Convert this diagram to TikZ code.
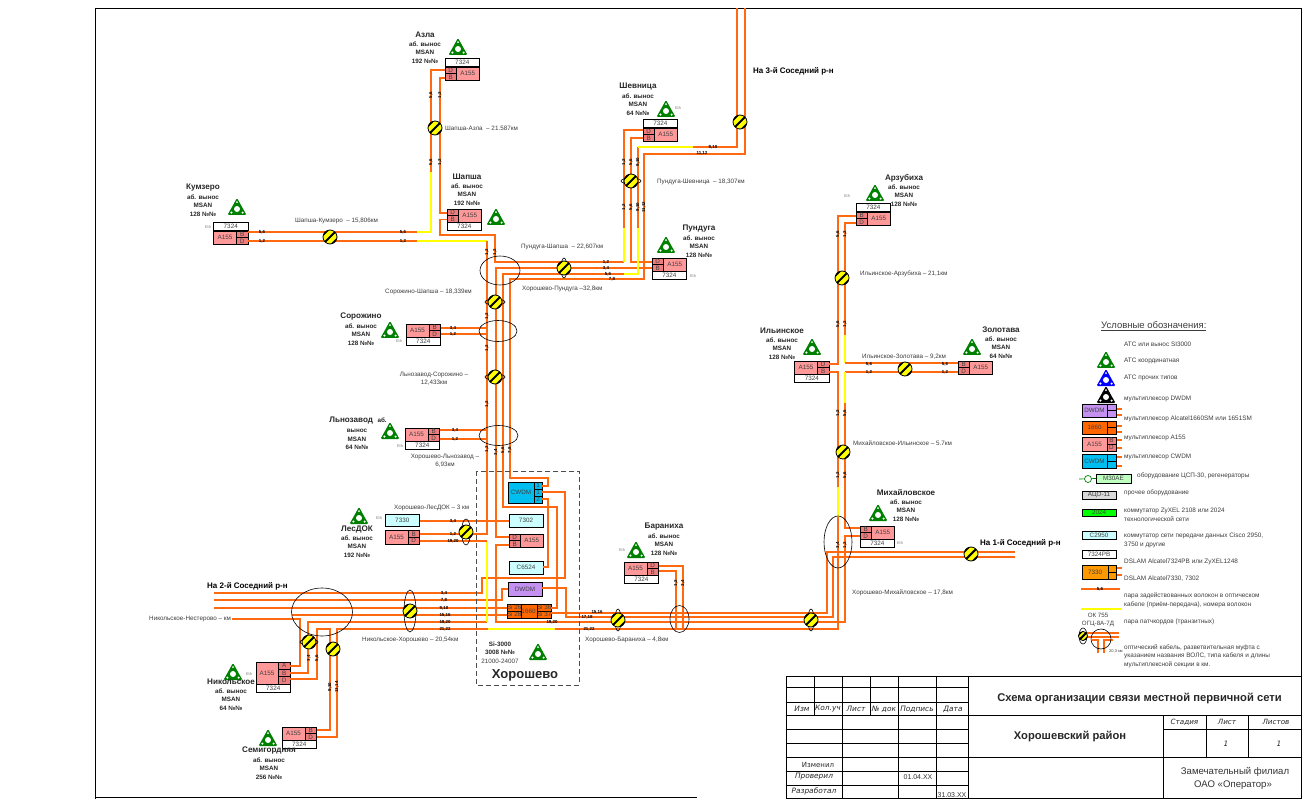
\documentclass[tikz,border=0pt]{standalone}
\usepackage{fontspec}
\setmainfont{Liberation Sans}
\newfontfamily\djfont{DejaVu Sans}
\newcommand\fsz[1]{\fontsize{#1}{#1}\selectfont}
\definecolor{fibc}{RGB}{255,105,15}
\definecolor{yelc}{RGB}{255,255,0}
\definecolor{pinkc}{RGB}{255,153,153}
\definecolor{pinkd}{RGB}{240,125,125}
\definecolor{cyanl}{RGB}{204,255,255}
\definecolor{cyand}{RGB}{0,190,240}
\definecolor{purc}{RGB}{196,145,240}
\definecolor{orac}{RGB}{255,102,0}
\definecolor{grnc}{RGB}{0,128,0}
\definecolor{gtxt}{RGB}{60,60,60}
\tikzset{
 fib/.style={draw=fibc,line width=1.7pt,line join=miter},
 yl/.style={draw=yelc,line width=1.7pt},
 thin1/.style={draw=black,line width=.6pt},
 dev/.style={draw=black,line width=.9pt,inner sep=0,outer sep=0,anchor=north west,text=black!75,font=\fsz{6.3}},
 lab/.style={inner sep=0,anchor=west,text=gtxt,font=\fsz{6.3}},
 labc/.style={lab,anchor=center},
 tag/.style={inner sep=0,text=black,font=\bfseries\fsz{4.4}},
 vt/.style={tag,rotate=90},
 eth/.style={inner sep=0,text=gray,font=\fsz{4}},
 stt/.style={inner sep=0,text=black!85,font=\bfseries\fsz{8.1}},
 sts/.style={inner sep=0,text=black!85,font=\bfseries\fsz{6.3}},
 big/.style={inner sep=0,text=black,font=\bfseries\fsz{8},anchor=west},
 tb/.style={inner sep=0,text=black!85,font=\djfont\itshape\fsz{7.4}},
 tbp/.style={inner sep=0,text=black!80,font=\fsz{7}},
 leg/.style={lab,font=\fsz{6.4}},
 atc/.pic={
  \fill[#1,rounded corners=1.2pt] (0,-9) -- (9.5,8) -- (-9.5,8) -- cycle;
  \fill[white] (0,2) circle (3pt);
  \fill[white] (-5.6,5.6) circle (1.2pt) (5.6,5.6) circle (1.2pt) (0,-4.8) circle (1pt);
 },
 spl/.pic={
  \begin{scope}
   \clip (0,0) circle (7pt);
   \fill[yelc] (-8,-8) rectangle (8,8);
   \foreach \d in {-4.6,0,4.6}{\draw[black,line width=2.1pt] (-9+\d,9+\d) -- (9+\d,-9+\d);}
  \end{scope}
  \draw[black,line width=.8pt] (0,0) circle (7pt);
 }
}
\newcounter{nn}
\newcommand\T[4][lab]{\stepcounter{nn}\node[#1] (t\thenn) at (#2,#3) {#4};}
\newcommand\bx[7]{\node[dev,minimum width=#4pt,minimum height=#5pt,fill=#6] (#1) at (#2,#3) {#7};}
\newcommand\devR[5]{\begin{scope}[shift={(#2,#3)}]
 \bx{#1p}{0}{0}{11.5}{6.75}{pinkd}{#4}\bx{#1q}{0}{6.75}{11.5}{6.75}{pinkd}{#5}\bx{#1}{11.5}{0}{22.5}{13.5}{pinkc}{A155}\end{scope}}
\newcommand\devL[5]{\begin{scope}[shift={(#2,#3)}]
 \bx{#1}{0}{0}{23}{13.5}{pinkc}{A155}\bx{#1p}{23}{0}{11.5}{6.75}{pinkd}{#4}\bx{#1q}{23}{6.75}{11.5}{6.75}{pinkd}{#5}\end{scope}}
\newcommand\Lb[3]{\stepcounter{nn}\node[dev,minimum width=34.5pt,minimum height=8.4pt,fill=white] (t\thenn) at (#1,#2) {#3};}
\newcommand\St[6]{\T[stt]{#1}{#2}{#3}\T[sts]{#1}{#2+9.3}{#4}\T[sts]{#1}{#2+17.8}{#5}\T[sts]{#1}{#2+26}{#6}}
\begin{document}
\begin{tikzpicture}[x=1pt,y=-1pt]
\useasboundingbox (0,0) rectangle (1306,799);
% sheet frame
\draw[black,line width=.7pt] (95,799) -- (95,8) -- (1301.5,8) -- (1301.5,799);
\draw[black,line width=.7pt] (95,797) -- (697,797);

% devices
\devR{az}{445}{67}{D}{B}\Lb{445}{58.5}{7324}
\devR{sh}{447}{209}{D}{B}\Lb{447}{222.5}{7324}
\devL{kz}{213.5}{231}{B}{D}\Lb{213.5}{222.5}{7324}
\devR{sv}{643}{128}{D}{B}\Lb{643}{119.5}{7324}
\devR{pd}{652}{258}{D}{B}\Lb{652}{271.5}{7324}
\devL{sr}{406}{324}{B}{D}\Lb{406}{337.5}{7324}
\devL{ln}{405}{428}{B}{D}\Lb{405}{441.5}{7324}
\devL{ls}{385}{530.5}{B}{D}\bx{l30}{385}{514}{34.5}{12.5}{cyanl}{7330}
\devR{kh}{509}{534}{D}{B}
\bx{cw}{508}{482}{26}{21}{cyand}{CWDM}
\begin{scope}[every node/.append style={font=\fsz{4.4}}]
\bx{cwa}{534}{482}{8}{7}{cyand}{1}\bx{cwb}{534}{489}{8}{7}{cyand}{1}\bx{cwc}{534}{496}{8}{7}{cyand}{2}
\end{scope}
\bx{k02}{509}{514}{34}{13}{cyanl}{7302}
\bx{c65}{509}{561}{34}{13}{cyanl}{C6524}
\bx{dw}{508}{582}{34}{14}{purc}{DWDM}
\bx{n16}{520}{604}{17}{14}{orac}{1660}
\begin{scope}[every node/.append style={font=\fsz{3.4}}]
\bx{sia}{507}{604}{13}{7}{orac}{Si 26}\bx{sib}{507}{611}{13}{7}{orac}{Si 28}\bx{sic}{537}{604}{13}{7}{orac}{Si 36}\bx{sid}{537}{611}{13}{7}{orac}{Si 37}
\end{scope}
\devL{br}{624}{562}{D}{B}\Lb{624}{575.5}{7324}
\devR{mh}{860}{526}{B}{D}\Lb{860}{539.5}{7324}
\devL{il}{794.5}{361}{D}{B}\Lb{794.5}{374.5}{7324}
\devR{zl}{958}{361}{B}{D}
\devR{ar}{856}{212}{B}{D}\Lb{856}{203.5}{7324}
\begin{scope}[shift={(256,662)}]
\bx{nk}{0}{0}{22}{22}{pinkc}{A155}\bx{nkp}{22}{0}{12.3}{7.3}{pinkd}{A}\bx{nkq}{22}{7.3}{12.3}{7.4}{pinkd}{B}\bx{nkr}{22}{14.7}{12.3}{7.3}{pinkd}{D}
\end{scope}
\Lb{256}{684}{7324}
\devL{sg}{282}{727}{B}{D}\Lb{282}{740.5}{7324}

% fibres
\draw[fib] (azp.west|-0,70) -- (431,70) -- (431,172);
\draw[yl] (431,172) -- (431,232) -- (417,232);
\draw[fib] (417,232) -- (kzp.east|-0,232);
\draw[fib] (azq.west|-0,78) -- (440,78) -- (440,213) -- (shp.west|-0,213);
\draw[fib] (shq.west|-0,219.5) -- (440,219.5) -- (440,235) -- (495,235) -- (495,262) -- (624,262);
\draw[yl] (624,262) -- (624,228);
\draw[fib] (624,228) -- (624,130) -- (svp.west|-0,130);
\draw[fib] (kzq.east|-0,241) -- (417,241);
\draw[yl] (417,241) -- (487,241);
\draw[fib] (487,241) -- (487,534) -- (lsp.east|-0,534);
\draw[fib] (pdp.west|-0,262) -- (631,262) -- (631,138) -- (svq.west|-0,138);
\draw[fib] (pdq.west|-0,268) -- (496,268) -- (496,537) -- (khp.west|-0,537);
\draw[fib] (khq.west|-0,545) -- (496,545) -- (496,622) -- (845,622) -- (845,536) -- (mhq.west|-0,536);
\draw[fib] (sic.east|-0,608) -- (557,608) -- (557,507) -- (503,507) -- (503,274) -- (624,274);
\draw[yl] (624,274) -- (638,274) -- (638,228);
\draw[fib] (638,228) -- (638,147);
\draw[yl] (638,147) -- (693,147);
\draw[fib] (693,147) -- (737,147) -- (737,8);
\draw[fib] (cwa.east|-0,486) -- (548,486) -- (548,478) -- (510,478) -- (510,279) -- (644,279) -- (644,154) -- (745,154) -- (745,8);
\draw[fib] (cwb.east|-0,492) -- (565,492) -- (565,578) -- (482,578) -- (482,593) -- (214,593);
\draw[fib] (cwc.east|-0,499) -- (548,499) -- (548,567) -- (c65.east|-0,567);
\draw[fib] (dw.west|-0,589) -- (502,589) -- (502,600) -- (214,600);
\draw[fib] (dw.east|-0,588) -- (566,588) -- (566,617) -- (833,617) -- (833,557) -- (1015,557);
\draw[fib] (sia.west|-0,608) -- (214,608);
\draw[fib] (sib.west|-0,615) -- (292,615);
\draw[fib] (sid.east|-0,613) -- (827,613) -- (827,552) -- (1015,552);
\draw[fib] (sgq.east|-0,737) -- (337,737) -- (337,629) -- (488,629);
\draw[yl] (488,629) -- (555,629);
\draw[fib] (555,629) -- (838,629) -- (838,517);
\draw[yl] (838,517) -- (838,487);
\draw[fib] (838,487) -- (838,372) -- (ilq.east|-0,372);
\draw[fib] (zlq.west|-0,372) -- (845,372);
\draw[yl] (845,372) -- (845,403);
\draw[fib] (845,403) -- (845,528) -- (mhp.west|-0,528);
\draw[fib] (arq.west|-0,223) -- (845,223) -- (845,335);
\draw[yl] (845,335) -- (845,363);
\draw[fib] (845,363) -- (zlp.west|-0,363);
\draw[fib] (ilp.east|-0,364) -- (838,364) -- (838,216) -- (arp.west|-0,216);
\draw[fib] (nkp.east|-0,666) -- (300,666) -- (300,619) -- (232,619);
\draw[fib] (nkq.east|-0,673) -- (308,673) -- (308,622) -- (487,622);
\draw[yl] (487,622) -- (487,541);
\draw[fib] (487,541) -- (lsq.east|-0,541);
\draw[fib] (nkr.east|-0,679) -- (317,679) -- (317,629) -- (330,629) -- (330,730) -- (sgp.east|-0,730);
\draw[fib] (brp.east|-0,566) -- (683,566) -- (683,629);
\draw[fib] (brq.east|-0,571) -- (676,571) -- (676,629);
\draw[fib] (l30.east|-0,521) -- (k02.west|-0,521);
\draw[fib] (srp.east|-0,328) -- (487,328);
\draw[fib] (srq.east|-0,334) -- (487,334);
\draw[fib] (lnp.east|-0,430) -- (487,430);
\draw[fib] (lnq.east|-0,439) -- (487,439);

% junction ellipses
\draw[thin1] (500,270.5) ellipse [x radius=20pt,y radius=14.5pt];
\draw[thin1] (498,331) ellipse [x radius=19pt,y radius=10.5pt];
\draw[thin1] (498.5,435.5) ellipse [x radius=19.5pt,y radius=10pt];
\draw[thin1] (322,612) ellipse [x radius=30.5pt,y radius=24pt];
\draw[thin1] (679.5,619) ellipse [x radius=9.5pt,y radius=13.5pt];
\draw[thin1] (838,542) ellipse [x radius=14pt,y radius=26pt];
\draw[thin1] (631,181) ellipse [x radius=10pt,y radius=3pt];
\draw[thin1] (564,268) ellipse [x radius=3pt,y radius=10pt];
\draw[thin1] (495,302) ellipse [x radius=10pt,y radius=3pt];
\draw[thin1] (495,377) ellipse [x radius=10pt,y radius=3pt];
\draw[thin1] (466,532) ellipse [x radius=4.5pt,y radius=13pt];
\draw[thin1] (410,611) ellipse [x radius=6pt,y radius=21pt];
\draw[thin1] (618,620) ellipse [x radius=3pt,y radius=11pt];
\draw[thin1] (811,620) ellipse [x radius=3pt,y radius=11pt];
\draw[thin1] (309,642) ellipse [x radius=9pt,y radius=3pt];

% splices
\foreach \p in {(435,128),(330,237),(740,122),(631,181),(564,268),(495,302),(495,377),(466,532),(410,611),(309,642),(333,649),(618,620),(811,620),(971,554),(842,278),(905,369),(843,452)}{\pic at \p {spl};}

% dashed box
\draw[draw=black!70,line width=1pt,dash pattern=on 5pt off 3pt] (476,471) rectangle (579,685);

% triangles
\foreach \p in {(458,47),(496,217),(237,207),(666,109),(666,245),(390,330),(390,431),(359,516),(538,652),(233,672),(268,738),(636,550),(878,513),(812,347),(972,347),(875,193)}{\pic at \p {atc=grnc};}

% station captions
\St{425}{35}{Азла}{аб. вынос}{MSAN}{192 №№}
\St{467}{177}{Шапша}{аб. вынос}{MSAN}{192 №№}
\St{203}{188}{Кумзеро}{аб. вынос}{MSAN}{128 №№}
\St{638}{87}{Шевница}{аб. вынос}{MSAN}{64 №№}
\St{699}{229}{Пундуга}{аб. вынос}{MSAN}{128 №№}
\St{361}{317}{Сорожино}{аб. вынос}{MSAN}{128 №№}
\T[stt]{358}{421}{Льнозавод\ \ {\fsz{6.3}аб.}}\T[sts]{357}{431}{вынос}\T[sts]{357}{439}{MSAN}\T[sts]{357}{447}{64 №№}
\St{357}{529}{ЛесДОК}{аб. вынос}{MSAN}{192 №№}
\St{231}{682}{Никольское}{аб. вынос}{MSAN}{64 №№}
\St{269}{751}{Семигордняя}{аб. вынос}{MSAN}{256 №№}
\St{664}{527}{Бараниха}{аб. вынос}{MSAN}{128 №№}
\St{906}{493}{Михайловское}{аб. вынос}{MSAN}{128 №№}
\St{782}{331}{Ильинское}{аб. вынос}{MSAN}{128 №№}
\St{1001}{330}{Золотава}{аб. вынос}{MSAN}{64 №№}
\St{904}{178}{Арзубиха}{аб. вынос}{MSAN}{128 №№}
\T[sts]{500}{644}{Si-3000}\T[sts]{500}{652}{3008 №№}\T[labc]{500}{661}{21000-24007}
\T[stt,font=\bfseries\fsz{13}]{525}{675}{Хорошево}
\foreach \p in {(208,227),(678,108),(693,276),(399,341),(400,446),(379,518),(249,674),(622,550),(900,543),(847,196)}{\stepcounter{nn}\node[eth] (t\thenn) at \p {Eth};}

% area labels
\T[big]{753}{71}{На 3-й Соседний р-н}
\T[big]{207}{586}{На 2-й Соседний р-н}
\T[big]{980}{543}{На 1-й Соседний р-н}

% cable labels
\T{445}{128}{Шапша-Азла\ \ – 21.587км}
\T{295}{221}{Шапша-Кумзеро\ \ – 15,806км}
\T{521}{247}{Пундуга-Шапша\ \ – 22,607км}
\T{522}{289}{Хорошево-Пундуга –32,8км}
\T{657}{182}{Пундуга-Шевница\ \ – 18,307км}
\T{385}{292}{Сорожино-Шапша – 18,339км}
\T[labc]{434}{375}{Льнозавод-Сорожино –}\T[labc]{434}{383}{12,433км}
\T[labc]{445}{457}{Хорошево-Льнозавод –}\T[labc]{445}{465}{6,93км}
\T{394}{508}{Хорошево-ЛесДОК – 3 км}
\T{362}{640}{Никольское-Хорошево – 20,54км}
\T{149}{619}{Никольское-Нестерово – км}
\T{585}{640}{Хорошево-Бараниха – 4,8км}
\T{852}{593}{Хорошево-Михайловское – 17,8км}
\T{853}{443}{Михайловское-Ильинское – 5.7км}
\T{860}{274}{Ильинское-Арзубиха – 21,1км}
\T{862}{357}{Ильинское-Золотава – 9,2км}

% fibre tags
\T[tag]{262}{232}{5,6}\T[tag]{403}{232}{5,6}\T[tag]{262}{241}{1,2}\T[tag]{403}{241}{1,2}
\T[vt]{431}{95}{5,6}\T[vt]{431}{162}{5,6}\T[vt]{440}{95}{1,2}\T[vt]{440}{162}{1,2}
\T[vt]{487}{252}{1,2}\T[vt]{495}{252}{1,2}\T[vt]{487}{316}{1,2}\T[vt]{487}{348}{1,2}\T[vt]{487}{404}{1,2}
\T[vt]{487}{449}{1,2}\T[vt]{496}{452}{3,4}\T[vt]{503}{450}{5,6}\T[vt]{510}{450}{7,8}
\T[tag]{606}{262}{1,2}\T[tag]{606}{268}{3,4}\T[tag]{608}{274}{5,6}\T[tag]{612}{279}{7,8}
\T[vt]{624}{162}{1,2}\T[vt]{631}{162}{5,6}\T[vt]{638}{162}{9,10}
\T[vt]{624}{207}{1,2}\T[vt]{631}{207}{5,6}\T[vt]{638}{207}{9,10}\T[vt]{644}{207}{11,12}
\T[tag]{713}{147}{9,10}\T[tag]{702}{153.5}{11,12}
\T[tag]{453}{328}{3,4}\T[tag]{453}{334}{1,2}\T[tag]{455}{430}{3,4}\T[tag]{455}{439}{1,2}
\T[tag]{453}{521}{3,4}\T[tag]{453}{534}{1,2}\T[tag]{453}{541}{19,20}
\T[tag]{444}{593}{3,4}\T[tag]{444}{600}{7,8}\T[tag]{444}{608}{9,10}\T[tag]{445}{615}{15,16}\T[tag]{445}{622}{19,20}\T[tag]{445}{629}{21,22}
\T[tag]{552}{622}{19,20}\T[tag]{589}{629}{21,22}\T[tag]{597}{612.5}{15,16}\T[tag]{587}{617}{17,18}
\T[vt]{309}{658}{3,4}\T[vt]{317}{658}{5,6}\T[vt]{330}{687}{9,10}\T[vt]{337}{687}{13,14}
\T[vt]{676}{583}{1,2}\T[vt]{683}{583}{3,4}
\T[vt]{838}{545}{3,4}\T[vt]{845}{545}{1,2}\T[vt]{838}{413}{1,2}\T[vt]{845}{413}{5,6}\T[vt]{838}{475}{1,2}\T[vt]{845}{475}{5,6}
\T[vt]{838}{234}{5,6}\T[vt]{845}{234}{1,2}\T[vt]{838}{324}{5,6}\T[vt]{845}{324}{1,2}
\T[tag]{869}{364}{5,6}\T[tag]{869}{372}{1,2}\T[tag]{945}{364}{5,6}\T[tag]{945}{372}{1,2}

% legend
\T{1101}{326}{\fsz{9.5}\underline{Условные обозначения:}}
\pic at (1106,360) {atc=grnc};
\pic at (1106,378) {atc=blue};
\pic at (1106,395) {atc=black};
\T[leg]{1124}{344}{АТС или вынос SI3000}
\T[leg]{1124}{361}{АТС координатная}
\T[leg]{1124}{378}{АТС прочих типов}
\T[leg]{1124}{399}{мультиплексор DWDM}
\T[leg]{1124}{419}{мультиплексор Alcatel1660SM или 1651SM}
\T[leg]{1124}{438}{мультиплексор A155}
\T[leg]{1124}{457}{мультиплексор CWDM}
\T[leg]{1137}{476}{оборудование ЦСП-30, регенераторы}
\T[leg]{1124}{493}{прочее оборудование}
\T[leg]{1124}{511}{коммутатор ZyXEL 2108 или 2024}
\T[leg]{1124}{519}{технологической сети}
\T[leg]{1124}{536}{коммутатор сети передачи данных Cisco 2950,}
\T[leg]{1124}{545}{3750 и другие}
\T[leg]{1124}{562}{DSLAM Alcatel7324PB или ZyXEL1248}
\T[leg]{1124}{579}{DSLAM Alcatel7330, 7302}
\T[leg]{1124}{596}{пара задействованных волокон в оптическом}
\T[leg]{1124}{605}{кабеле (приём-передача), номера волокон}
\T[leg]{1124}{622}{пара патчкордов (транзитных)}
\T[leg]{1124}{648}{оптический кабель, разветвительная муфта с}
\T[leg]{1124}{656}{указанием названия ВОЛС, типа кабеля и длины}
\T[leg]{1124}{665}{мультиплексной секции в км.}
\begin{scope}[every node/.append style={font=\fsz{6}}]
\draw[fib] (1116,409) -- (1122,409) (1116,415) -- (1122,415) (1116,426) -- (1122,426) (1116,432) -- (1122,432) (1116,440) -- (1122,440) (1116,448) -- (1122,448) (1116,457) -- (1122,457) (1116,466) -- (1122,466) (1116,568) -- (1122,568) (1116,575) -- (1122,575);
\bx{ldw}{1082}{404}{25}{13.5}{purc}{DWDM}\bx{ldwa}{1107}{404}{9}{6.75}{purc}{}\bx{ldwb}{1107}{410.75}{9}{6.75}{purc}{}
\bx{l16}{1082}{421}{25}{13.5}{orac}{1660}\bx{l16a}{1107}{421}{9}{6.75}{orac}{}\bx{l16b}{1107}{427.75}{9}{6.75}{orac}{}
\bx{la1}{1082}{437}{25}{14}{pinkc}{A155}\bx{la1a}{1107}{437}{9}{7}{pinkd}{B}\bx{la1b}{1107}{444}{9}{7}{pinkd}{D}
\bx{lcw}{1082}{454}{25}{14}{cyand}{CWDM}\bx{lcwa}{1107}{454}{9}{7}{cyand}{}\bx{lcwb}{1107}{461}{9}{7}{cyand}{}
\bx{lm3}{1096}{474}{35}{9}{green!25}{M30AE}
\draw[draw=grnc,line width=.7pt] (1079,479) -- (lm3.west);
\draw[draw=grnc,line width=.7pt,fill=white] (1088,479) circle (3.5pt);
\bx{lac}{1082}{491}{34}{8.5}{black!15}{АЦО-11}
\bx{l24}{1082}{509}{34}{7}{green}{2024}
\bx{lc2}{1082}{531}{34}{8}{cyanl}{C2950}
\bx{l7p}{1082}{550}{34}{8}{white}{7324PB}
\bx{l73}{1082}{565}{26}{14}{orange!80!yellow}{7330}\bx{l73a}{1108}{565}{8}{7}{orange!80!yellow}{}\bx{l73b}{1108}{572}{8}{7}{orange!80!yellow}{}
\end{scope}
\draw[fib] (1081,589) -- (1120,589);
\T[tag]{1100}{589}{5,6}
\draw[yl] (1081,609) -- (1122,609);
\T[lab,anchor=center,font=\fsz{6.2}]{1098}{615}{ОК 755}
\T[lab,anchor=center,font=\fsz{6.2}]{1098}{624}{ОГЦ-8А-7Д}
\draw[fib] (1080,633) -- (1119,633) (1080,637) -- (1119,637);
\draw[fib] (1092,640) -- (1098,640) -- (1098,653) (1113,640) -- (1104,640) -- (1104,653);
\draw[thin1] (1101,639) circle (10pt);
\draw[thin1] (1083,636) ellipse [x radius=4pt,y radius=8pt];
\pic[scale=.65] at (1083,636) {spl};
\T[eth,anchor=west,text=gtxt]{1109}{651}{20,3 км}

% title block
\begin{scope}[draw=black,line width=.8pt]
\draw (786,676) -- (1301.5,676) (786,676) -- (786,798) -- (1301.5,798);
\draw (786,687) -- (968,687) (786,702) -- (968,702) (786,715) -- (1301.5,715);
\draw (786,729) -- (968,729) (786,743) -- (968,743) (786,757) -- (1301.5,757) (786,771) -- (968,771) (786,785) -- (968,785);
\draw (814,676) -- (814,715) (870.5,676) -- (870.5,715);
\draw (842,676) -- (842,798) (898,676) -- (898,798) (936,676) -- (936,798) (968,676) -- (968,798);
\draw (1163.5,715) -- (1163.5,798) (1206,715) -- (1206,757) (1248,715) -- (1248,757) (1163.5,729) -- (1301.5,729);
\end{scope}
\T[tb]{802}{709}{Изм}\T[tb]{828}{709}{Кол.уч}\T[tb]{856}{709}{Лист}\T[tb]{884}{709}{№ док}\T[tb]{917}{709}{Подпись}\T[tb]{953}{709}{Дата}
\T[tb,font=\djfont\fsz{7}]{818}{765}{Изменил}\T[tb]{814}{777}{Проверил}\T[tb]{814}{791}{Разработал}
\T[tbp]{918}{777}{01.04.XX}\T[tbp]{952}{795}{31.03.XX}
\T[tb,font=\djfont\itshape\fsz{7.2}]{1184.5}{722}{Стадия}\T[tb,font=\djfont\itshape\fsz{7.2}]{1227}{722}{Лист}\T[tb,font=\djfont\itshape\fsz{7.2}]{1276}{722}{Листов}
\T[tb]{1226}{744}{1}\T[tb]{1279}{744}{1}
\T[stt,font=\bfseries\fsz{11.2}]{1139.5}{698}{Схема организации связи местной первичной сети}
\T[stt,font=\bfseries\fsz{11.2}]{1070}{736}{Хорошевский район}
\T[tbp,font=\fsz{9.6}]{1235}{772}{Замечательный филиал}
\T[tbp,font=\fsz{9.6}]{1233}{785}{ОАО «Оператор»}
\end{tikzpicture}
\end{document}
